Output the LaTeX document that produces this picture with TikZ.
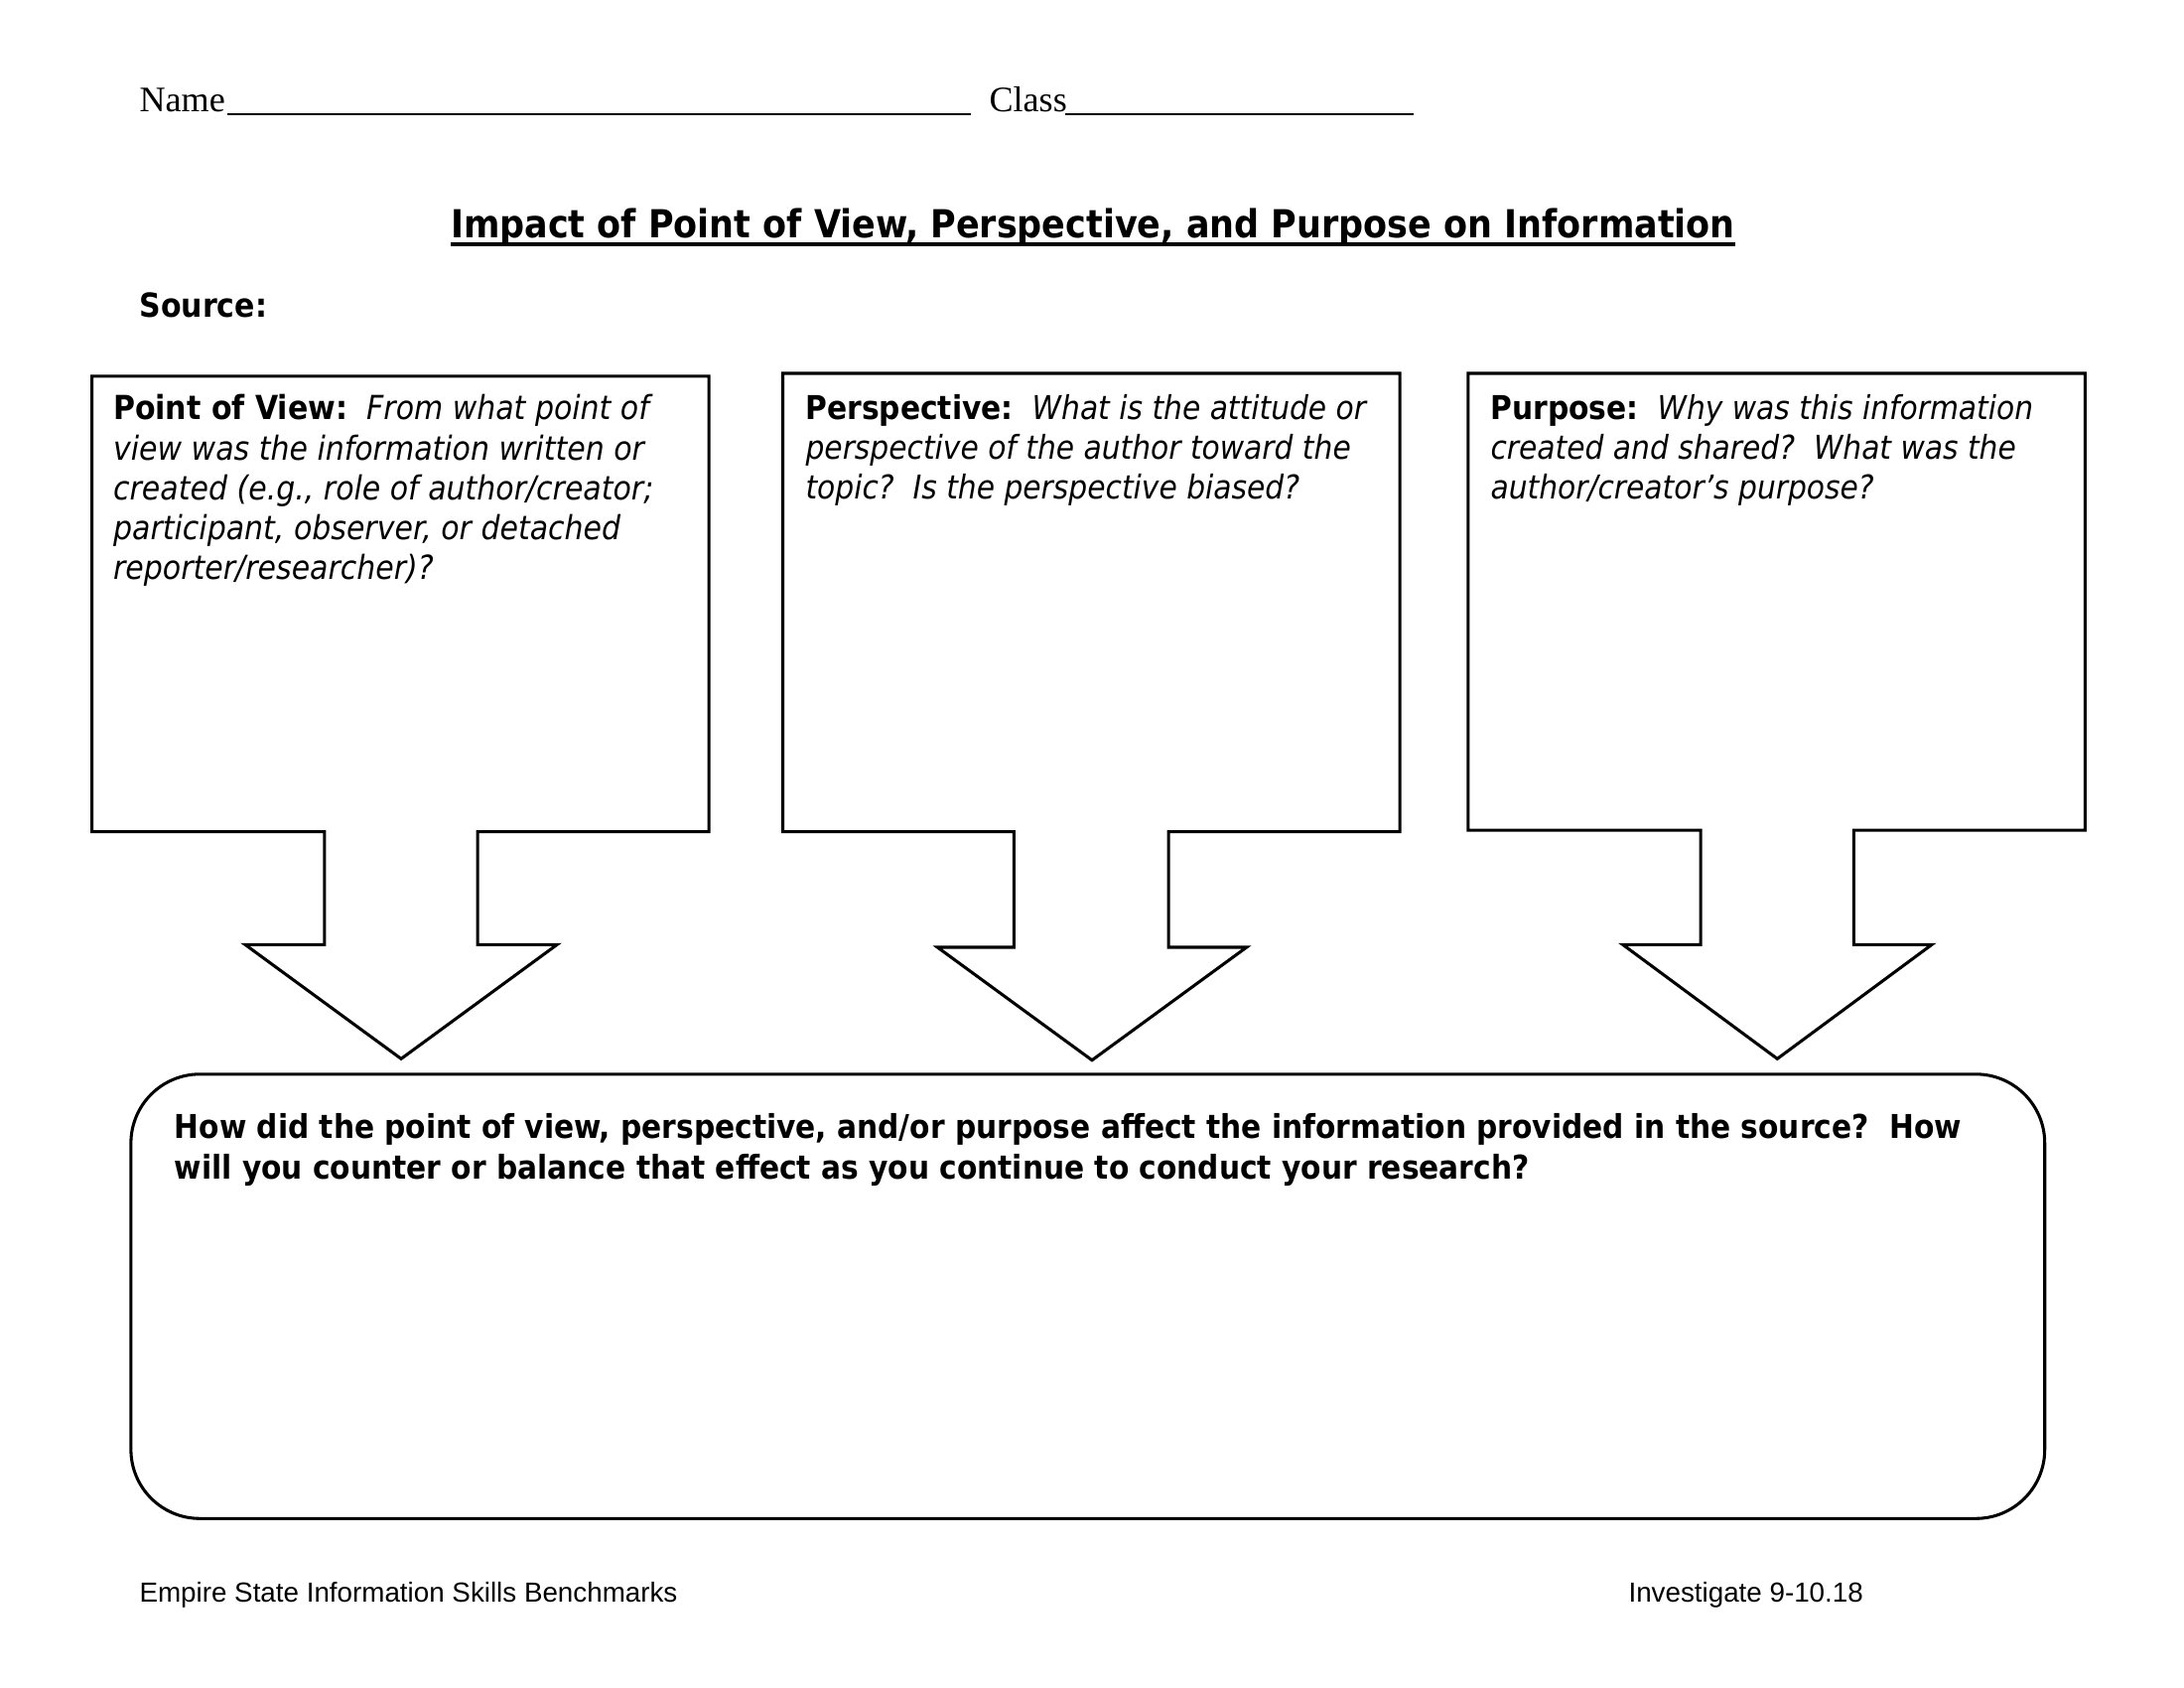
\documentclass[tikz,border=0pt]{standalone}
\usepackage{fontspec}
\setmainfont{DejaVu Sans Condensed}
\newfontfamily\tnr{Liberation Serif}
\newfontfamily\arial{Liberation Sans}
\begin{document}
\begin{tikzpicture}[x=0.36pt,y=-0.36pt,
  boxline/.style={draw=black,line width=1.1pt,line join=miter},
  qtext/.style={anchor=base west,inner sep=0pt,align=left,font=\fontsize{12}{14.5}\selectfont},
  foot/.style={anchor=base west,inner sep=0pt,font=\arial\fontsize{10}{12}\selectfont}]
\useasboundingbox (0,0) rectangle (2200,1700);
\fill[white] (0,0) rectangle (2200,1700);
% header
\node[anchor=base west,inner sep=0pt,font=\tnr\fontsize{13}{15}\selectfont] (name) at (140,113) {Name};
\coordinate (nameA) at (229,115); \coordinate (nameB) at (978,115);
\draw[line width=0.6pt] (nameA) -- (nameB);
\node[anchor=base west,inner sep=0pt,font=\tnr\fontsize{13}{15}\selectfont] (class) at (996,113) {Class};
\coordinate (classA) at (1073,115); \coordinate (classB) at (1424,115);
\draw[line width=0.6pt] (classA) -- (classB);
% title
\node[anchor=base,inner sep=0pt,font=\bfseries\fontsize{14}{17}\selectfont] (title) at (1101,239.5) {Impact of Point of View, Perspective, and Purpose on Information};
\draw[line width=1.2pt] ([yshift=-2.3pt]title.base west) -- ([yshift=-2.3pt]title.base east);
\node[anchor=base west,inner sep=0pt,font=\bfseries\fontsize{12}{14.5}\selectfont] (source) at (140,320) {Source:};
% box 1
\draw[boxline] (92.6,378.8) -- (714.2,378.8) -- (714.2,837.6) -- (481.2,837.6) -- (481.2,951.3) -- (561.2,951.3) -- (404.1,1066.3) -- (246.9,951.3) -- (326.9,951.3) -- (326.9,837.6) -- (92.6,837.6) -- cycle;
\node[qtext] (pov) at (113.6,584) {\textbf{Point of View:}\ \ \textit{From what point of}\\
\textit{view was the information written or}\\
\textit{created (e.g., role of author/creator;}\\
\textit{participant, observer, or detached}\\
\textit{reporter/researcher)?}};
% box 2
\draw[boxline] (788.5,376) -- (1410.1,376) -- (1410.1,837.6) -- (1177.2,837.6) -- (1177.2,954) -- (1255.7,954) -- (1100,1067.7) -- (944.3,954) -- (1021.4,954) -- (1021.4,837.6) -- (788.5,837.6) -- cycle;
\node[qtext,font=\fontsize{11.9}{14.5}\selectfont] (persp) at (811,503) {\textbf{Perspective:}\ \ \textit{What is the attitude or}\\
\textit{perspective of the author toward the}\\
\textit{topic?\ \ Is the perspective biased?}};
% box 3
\draw[boxline] (1478.8,376) -- (2100.4,376) -- (2100.4,836.2) -- (1867.4,836.2) -- (1867.4,951.3) -- (1946,951.3) -- (1790.3,1066.3) -- (1634.6,951.3) -- (1713.1,951.3) -- (1713.1,836.2) -- (1478.8,836.2) -- cycle;
\node[qtext,font=\fontsize{11.9}{14.5}\selectfont] (purp) at (1501,503) {\textbf{Purpose:}\ \ \textit{Why was this information}\\
\textit{created and shared?\ \ What was the}\\
\textit{author/creator’s purpose?}};
% bottom box
\draw[boxline,rounded corners=25pt] (131.9,1081.8) rectangle (2059.7,1529.3);
\node[qtext,font=\bfseries\fontsize{11.88}{14.5}\selectfont] (q) at (175.4,1187) {How did the point of view, perspective, and/or purpose affect the information provided in the source?\ \ How\\
will you counter or balance that effect as you continue to conduct your research?};
% footer
\node[foot] (f1) at (140,1613.5) {Empire State Information Skills Benchmarks};
\node[foot] (f2) at (1640,1613.5) {Investigate 9-10.18};
\end{tikzpicture}
\end{document}
